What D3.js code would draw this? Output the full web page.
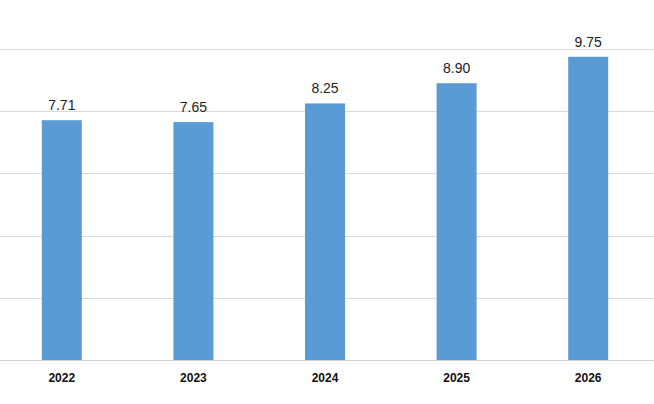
<!DOCTYPE html>
<html><head><meta charset="utf-8">
<script src="https://cdn.jsdelivr.net/npm/d3@7"></script>
<style>body{margin:0;background:#fff}svg{display:block}</style>
</head><body>
<script>
const categories = ["2022","2023","2024","2025","2026"];
const values = [7.71,7.65,8.25,8.90,9.75];
const labels = ["7.71","7.65","8.25","8.90","9.75"];
const gridTicks = [0,2,4,6,8,10];

const W=654,H=404;
const svg=d3.select("body").append("svg").attr("width",W).attr("height",H);
const y=d3.scaleLinear().domain([0,10]).range([360,49]);
const x=d3.scaleBand().domain(categories).range([-4,654]).paddingInner(0.696).paddingOuter(0.348);

svg.selectAll("line.g").data(gridTicks).join("line")
 .attr("x1",0).attr("x2",W).attr("y1",d=>Math.round(y(d))+0.5).attr("y2",d=>Math.round(y(d))+0.5)
 .attr("stroke",d=>d===0?"#d0d0d0":"#d9d9d9").attr("stroke-width",1);

svg.selectAll("rect").data(values).join("rect")
 .attr("x",(d,i)=>x(categories[i])).attr("width",x.bandwidth())
 .attr("y",d=>y(d)).attr("height",d=>y(0)-y(d)).attr("fill","#5b9bd5");

svg.selectAll("text.v").data(values).join("text")
 .attr("x",(d,i)=>x(categories[i])+x.bandwidth()/2).attr("y",d=>y(d)-10)
 .attr("text-anchor","middle").attr("font-family","Liberation Sans, Arial, sans-serif")
 .attr("font-size",14).attr("fill","#222").text((d,i)=>labels[i]);

svg.selectAll("text.c").data(categories).join("text")
 .attr("x",d=>x(d)+x.bandwidth()/2).attr("y",382)
 .attr("text-anchor","middle").attr("font-family","Liberation Sans, Arial, sans-serif")
 .attr("font-size",12).attr("font-weight","bold").attr("fill","#111").text(d=>d);
</script>
</body></html>
